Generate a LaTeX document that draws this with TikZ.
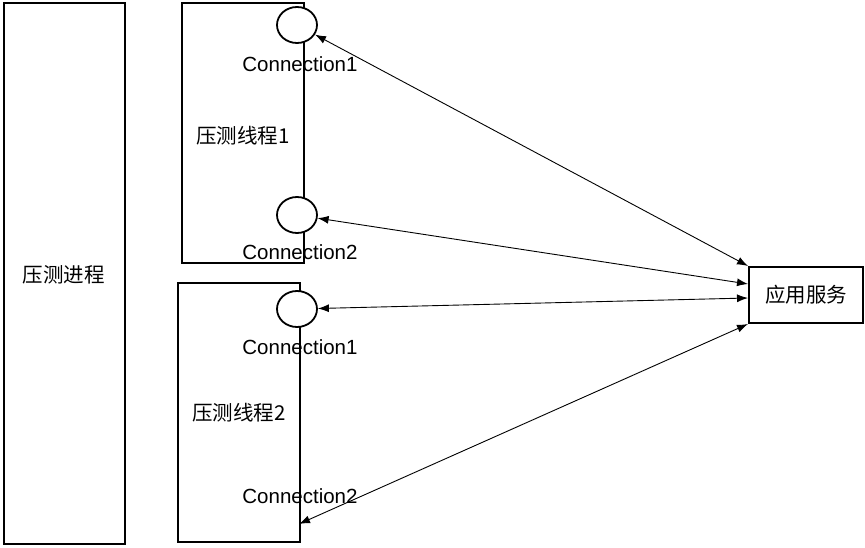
\documentclass[tikz,border=0pt]{standalone}
\usepackage{fontspec}
\setmainfont{Liberation Sans}
\newfontfamily\cjk{Noto Sans CJK SC}
\usetikzlibrary{arrows.meta,shapes.geometric}
\begin{document}
\begin{tikzpicture}[x=1pt,y=-1pt,
    box/.style={rectangle,draw,line width=2pt,inner sep=0pt,font=\cjk\fontsize{20.5}{24}\selectfont},
    conn/.style={ellipse,draw,fill=white,line width=1.8pt,minimum width=40pt,minimum height=36pt,inner sep=0pt},
    lbl/.style={font=\fontsize{20.5}{24}\selectfont,inner sep=0pt},
    link/.style={{Latex[length=11pt,width=8pt]}-{Latex[length=11pt,width=8pt]},line width=0.9pt}]
  \useasboundingbox (0,0) rectangle (865,548);
  \node[box,minimum width=121pt,minimum height=541pt] (proc) at (64.5,273.5) {};
  \node[font=\cjk\fontsize{20.5}{24}\selectfont] at (64,275) {压测进程};
  \node[box,minimum width=122pt,minimum height=260pt] (t1) at (243,133) {};
  \node[font=\cjk\fontsize{20.5}{24}\selectfont] at (243,136) {压测线程1};
  \node[box,minimum width=122pt,minimum height=259pt] (t2) at (239,412.5) {};
  \node[font=\cjk\fontsize{20.5}{24}\selectfont] at (239,413) {压测线程2};
  \node[box,minimum width=114pt,minimum height=56pt] (svc) at (806,295) {应用服务};

  \node[conn] (c1) at (297,25) {};
  \node[lbl] (c1L) at (300,64) {Connection1};
  \node[conn] (c2) at (297,215) {};
  \node[lbl] (c2L) at (300,252) {Connection2};
  \node[conn] (c3) at (297,309) {};
  \node[lbl] (c3L) at (300,347) {Connection1};
  \coordinate (c4) at (299,524);
  \node[lbl] (c4L) at (300,496) {Connection2};

  \draw[link] (c1) -- (svc.north west);
  \draw[link] (c2) -- ([yshift=11pt]svc.west);
  \draw[link] (c3) -- ([yshift=-3pt]svc.west);
  \draw[link] (c4) -- (svc.south west);
\end{tikzpicture}
\end{document}
